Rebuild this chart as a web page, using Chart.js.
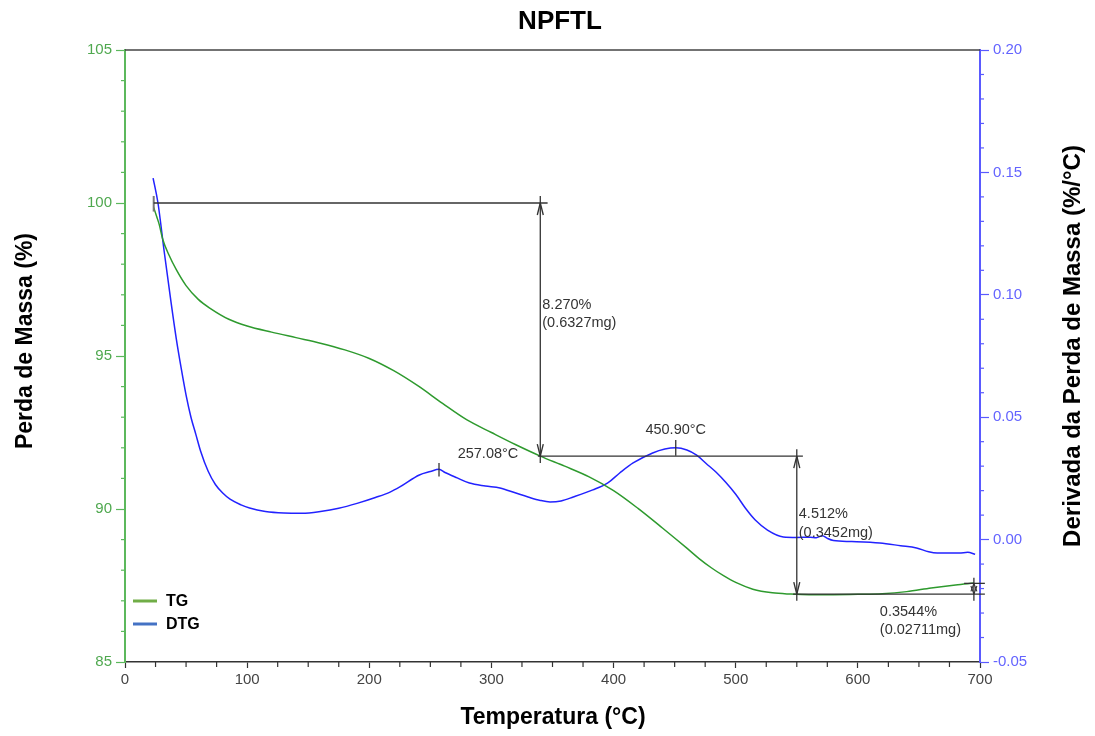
<!DOCTYPE html>
<html><head><meta charset="utf-8">
<script src="https://cdn.jsdelivr.net/npm/chart.js@4.4.0/dist/chart.umd.min.js"></script>
<style>html,body{margin:0;padding:0;background:#fff;}#wrap{width:1095px;height:736px;}</style>
</head><body><div id="wrap"><canvas id="c" width="1095" height="736"></canvas></div>
<script>
const chartTitle = "NPFTL";
const xTitle = "Temperatura (°C)";
const yTitle = "Perda de Massa (%)";
const y1Title = "Derivada da Perda de Massa (%/°C)";
const seriesNames = ["TG", "DTG"];

const tgTemp = [23.5,26,28,31,36,42,50,60,70,85,100,120,140,160,180,200,220,240,260,280,300,320,340,360,380,400,420,440,460,470,480,490,500,514,530,545,560,580,600,620,640,660,680,695];
const tgMass = [99.85,99.55,99.3,98.8,98.3,97.82,97.3,96.85,96.55,96.2,95.98,95.78,95.6,95.42,95.2,94.92,94.52,94.02,93.45,92.91,92.5,92.1,91.73,91.4,91.05,90.6,90.02,89.38,88.72,88.38,88.08,87.82,87.6,87.38,87.26,87.22,87.2,87.2,87.21,87.23,87.3,87.42,87.52,87.58];

const dtgTemp = [23,27,32,37.4,42,46,50,54,58,62,68,74,80,86,95,102,115,130,145,160,175,190,205,217,225,241,250,257,262,272,282,295,307,320,330,340,348,357,367,383,395,405,416,432,442,451,460,468,476,484,492,500,508,516,526,539,550,561,566,571,575,580,595,618,635,648,658,665,683,690,696];
const dtgDeriv = [0.1477,0.1375,0.118,0.098,0.082,0.070,0.059,0.050,0.043,0.036,0.028,0.0225,0.019,0.0165,0.0142,0.0129,0.0115,0.0109,0.0108,0.0115,0.0128,0.0148,0.0172,0.0194,0.0215,0.0264,0.0278,0.0287,0.0274,0.0252,0.0231,0.0219,0.0211,0.019,0.0174,0.016,0.0154,0.0158,0.0174,0.0203,0.0231,0.0272,0.0313,0.0354,0.037,0.0375,0.0366,0.0345,0.031,0.0275,0.0233,0.0185,0.0128,0.008,0.0039,0.0011,0.0009,0.001,0.0008,0.0016,0.0005,-0.0004,-0.0008,-0.0014,-0.0025,-0.0034,-0.005,-0.0055,-0.0055,-0.0052,-0.006];

const xRange = [0, 700];
const yRange = [85, 105];
const y1Range = [-0.05, 0.20];

const annoFont = '14.5px "Liberation Sans", Arial, sans-serif';

const overlay = {
  id: 'overlay',
  afterDatasetsDraw(chart) {
    const ctx = chart.ctx, a = chart.chartArea;
    const X = v => chart.scales.x.getPixelForValue(v);
    const Y = v => chart.scales.y.getPixelForValue(v);
    const Y1 = v => chart.scales.y1.getPixelForValue(v);
    ctx.save();
    // top frame line
    ctx.strokeStyle = '#444'; ctx.lineWidth = 1.5;
    ctx.beginPath(); ctx.moveTo(a.left, a.top); ctx.lineTo(a.right, a.top); ctx.stroke();
    // minor ticks
    ctx.lineWidth = 1.2;
    ctx.strokeStyle = '#333';
    for (let v = 25; v < 700; v += 25) { if (v % 100 === 0) continue; const p = X(v); ctx.beginPath(); ctx.moveTo(p, a.bottom); ctx.lineTo(p, a.bottom + 5); ctx.stroke(); }
    ctx.strokeStyle = '#5cb85c';
    for (let v = 86; v < 105; v++) { if (v % 5 === 0) continue; const p = Y(v); ctx.beginPath(); ctx.moveTo(a.left - 4, p); ctx.lineTo(a.left, p); ctx.stroke(); }
    ctx.strokeStyle = '#5a5aff';
    for (let i = -4; i < 20; i++) { if (i % 5 === 0) continue; const p = Y1(i / 100); ctx.beginPath(); ctx.moveTo(a.right, p); ctx.lineTo(a.right + 4, p); ctx.stroke(); }

    // annotation lines
    ctx.strokeStyle = '#333'; ctx.lineWidth = 1.3;
    const line = (x1, y1, x2, y2) => { ctx.beginPath(); ctx.moveTo(x1, y1); ctx.lineTo(x2, y2); ctx.stroke(); };
    const arrowUp = (x, y) => { line(x - 3, y + 12, x, y); line(x + 3, y + 12, x, y); };
    const arrowDown = (x, y) => { line(x - 3, y - 12, x, y); line(x + 3, y - 12, x, y); };
    // start marker
    ctx.strokeStyle = '#777'; ctx.lineWidth = 2;
    line(X(23.5), Y(100.23), X(23.5), Y(99.72));
    ctx.strokeStyle = '#333'; ctx.lineWidth = 1.3;
    // step 1
    line(X(23.5), Y(100), X(346), Y(100));
    line(X(340), Y(100.23), X(340), Y(91.5));
    arrowUp(X(340), Y(100)); arrowDown(X(340), Y(91.73));
    // step 2
    line(X(338), Y(91.73), X(555), Y(91.73));
    line(X(550), Y(91.95), X(550), Y(87.0));
    arrowUp(X(550), Y(91.73)); arrowDown(X(550), Y(87.22));
    // step 3
    line(X(547), Y(87.22), X(704), Y(87.22));
    line(X(687), Y(87.57), X(704), Y(87.57));
    line(X(695), Y(87.75), X(695), Y(87.0));
    ctx.lineWidth = 1.1;
    line(X(695) - 3, Y(87.57) + 8, X(695), Y(87.57)); line(X(695) + 3, Y(87.57) + 8, X(695), Y(87.57));
    line(X(695) - 3, Y(87.22) - 8, X(695), Y(87.22)); line(X(695) + 3, Y(87.22) - 8, X(695), Y(87.22));
    ctx.lineWidth = 1.3;
    // peak markers
    line(X(257.08), Y1(0.0313), X(257.08), Y1(0.0258));
    line(X(450.9), Y1(0.0407), X(450.9), Y1(0.0343));

    // annotation texts
    ctx.fillStyle = '#333'; ctx.font = annoFont; ctx.textBaseline = 'middle';
    ctx.textAlign = 'left';
    ctx.fillText('8.270%', X(340) + 2, Y(96.67));
    ctx.fillText('(0.6327mg)', X(340) + 2, Y(96.08));
    ctx.fillText('4.512%', X(550) + 2, Y(89.83));
    ctx.fillText('(0.3452mg)', X(550) + 2, Y(89.21));
    ctx.fillText('0.3544%', X(618), Y(86.63));
    ctx.fillText('(0.02711mg)', X(618), Y(86.04));
    ctx.textAlign = 'right';
    ctx.fillText('257.08°C', X(340) - 22, Y(91.8));
    ctx.textAlign = 'center';
    ctx.fillText('450.90°C', X(450.9), Y1(0.0446));

    // legend
    const legendItems = [[seriesNames[0], '#70ad47'], [seriesNames[1], '#4472c4']];
    ctx.font = 'bold 16px "Liberation Sans", Arial, sans-serif';
    ctx.textAlign = 'left';
    legendItems.forEach((it, i) => {
      const yy = a.top + 551 + i * 23;
      ctx.strokeStyle = it[1]; ctx.lineWidth = 3;
      line(a.left + 8, yy, a.left + 32, yy);
      ctx.fillStyle = '#000';
      ctx.fillText(it[0], a.left + 41, yy + 1);
    });
    ctx.restore();
  },
  afterDraw(chart) {
    const ctx = chart.ctx;
    ctx.save();
    ctx.fillStyle = '#000';
    ctx.textAlign = 'center'; ctx.textBaseline = 'middle';
    ctx.font = 'bold 26px "Liberation Sans", Arial, sans-serif';
    ctx.fillText(chartTitle, 560, 22);
    ctx.font = 'bold 23px "Liberation Sans", Arial, sans-serif';
    ctx.fillText(xTitle, 553, 718);
    ctx.save(); ctx.translate(26, 341); ctx.rotate(-Math.PI / 2); ctx.fillText(yTitle, 0, 0); ctx.restore();
    ctx.font = 'bold 24px "Liberation Sans", Arial, sans-serif';
    ctx.save(); ctx.translate(1073, 346); ctx.rotate(-Math.PI / 2); ctx.fillText(y1Title, 0, 0); ctx.restore();
    ctx.restore();
  }
};

const tickFont = { family: '"Liberation Sans", Arial, sans-serif', size: 15 };

new Chart(document.getElementById('c'), {
  type: 'line',
  data: {
    datasets: [
      { label: seriesNames[0], data: tgTemp.map((t, i) => ({ x: t, y: tgMass[i] })), yAxisID: 'y',
        borderColor: '#2e9a2e', borderWidth: 1.5, pointRadius: 0, cubicInterpolationMode: 'monotone', fill: false },
      { label: seriesNames[1], data: dtgTemp.map((t, i) => ({ x: t, y: dtgDeriv[i] })), yAxisID: 'y1',
        borderColor: '#2222ff', borderWidth: 1.5, pointRadius: 0, cubicInterpolationMode: 'monotone', fill: false }
    ]
  },
  options: {
    responsive: false, animation: false, devicePixelRatio: 1,
    layout: { padding: { top: 50, left: 0, right: 0, bottom: 0 } },
    plugins: { legend: { display: false }, title: { display: false }, tooltip: { enabled: false } },
    scales: {
      x: {
        type: 'linear', position: 'bottom', min: xRange[0], max: xRange[1],
        ticks: { stepSize: 100, color: '#444', font: tickFont, padding: 3, maxRotation: 0 },
        grid: { drawOnChartArea: false, tickLength: 6, tickColor: '#333', tickWidth: 1.2 },
        border: { color: '#333', width: 1.5 },
        afterFit: s => { s.height = 74; }
      },
      y: {
        position: 'left', min: yRange[0], max: yRange[1],
        ticks: { stepSize: 5, color: '#4fa84f', font: tickFont, padding: 4 },
        grid: { drawOnChartArea: false, tickLength: 9, tickColor: '#5cb85c', tickWidth: 1.2 },
        border: { color: '#5cb85c', width: 2 },
        afterFit: s => { s.width = 125; }
      },
      y1: {
        position: 'right', min: y1Range[0], max: y1Range[1],
        ticks: { stepSize: 0.05, color: '#6464ff', font: tickFont, padding: 4, callback: v => Number(v).toFixed(2) },
        grid: { drawOnChartArea: false, tickLength: 9, tickColor: '#5a5aff', tickWidth: 1.2 },
        border: { color: '#5a5aff', width: 2 },
        afterFit: s => { s.width = 115; }
      }
    }
  },
  plugins: [overlay]
});
</script>
</body></html>
